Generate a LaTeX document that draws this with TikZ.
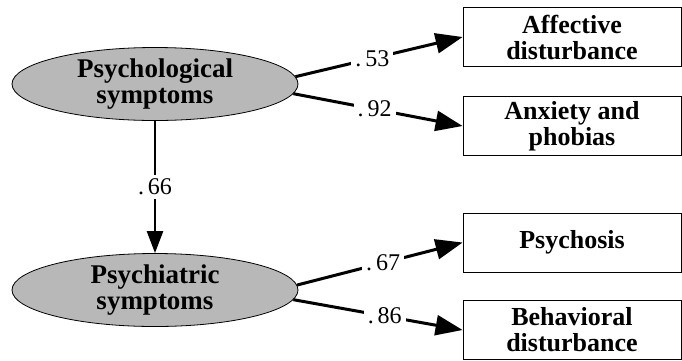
\documentclass[tikz,border=0pt]{standalone}
\usepackage{fontspec}
\setmainfont{Liberation Serif}
\usetikzlibrary{arrows.meta,shapes.geometric}
\tikzset{
  latent/.style={ellipse,draw=black,thick,fill=black!28,minimum width=286pt,
    minimum height=73pt,inner sep=0pt,align=center,
    font=\fontsize{27}{26}\selectfont\bfseries},
  indicator/.style={rectangle,draw=black,thick,minimum width=218pt,
    minimum height=59pt,inner sep=0pt,align=center,
    font=\fontsize{26}{26}\selectfont\bfseries},
  load/.style={-{Triangle[length=27pt,width=20pt]},line width=3pt},
  coef/.style={fill=white,inner sep=4pt,font=\fontsize{24}{24}\selectfont}
}
\begin{document}
\begin{tikzpicture}[x=1pt,y=-1pt]
\useasboundingbox (0,0) rectangle (682,360);
% \draw[help lines] (0,0) grid[step=50] (682,360);
\node (psylog) [latent] at (155,84) {Psychological\\symptoms};
\node (psyatr) [latent] at (155,290) {Psychiatric\\symptoms};
%
\node (affect) [indicator] at (572,37) {Affective\\disturbance};
\node (anxiety) [indicator] at (572,126) {Anxiety and\\phobias};
\node (psychosis) [indicator] at (572,242.5) {Psychosis};
\node (behave) [indicator] at (572,330) {Behavioral\\disturbance};
%
\draw[-{Triangle[length=22pt,width=16pt]},line width=2.5pt] (psylog.south) -- node[coef] {.\,66} (psyatr.north);
\draw[load] (psylog.3) -- node[coef,pos=0.46] {.\,53} (affect.west);
\draw[load] (psylog.-4) -- node[coef,pos=0.48] {.\,92} (anxiety.west);
\draw[load] (psyatr.2) -- node[coef,pos=0.52] {.\,67} (psychosis.west);
\draw[load] (psyatr.-4) -- node[coef,pos=0.54] {.\,86} (behave.west);
\end{tikzpicture}
\end{document}
